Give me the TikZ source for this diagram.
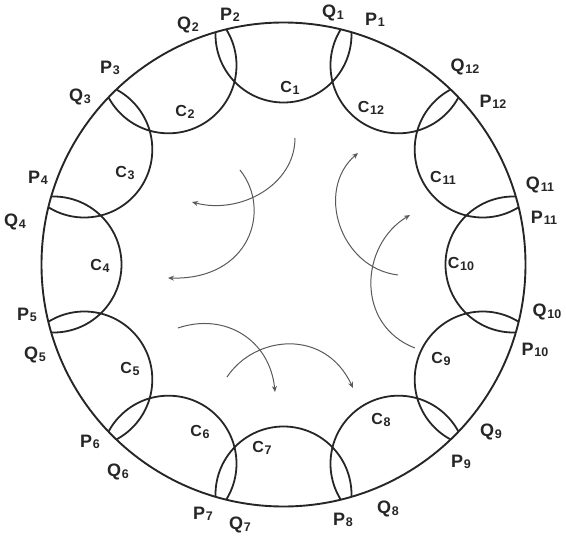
\documentclass[tikz,border=0pt]{standalone}
\usepackage{fontspec}
\setmainfont{Liberation Sans}
\usetikzlibrary{arrows.meta}
\newcommand{\lbl}[2]{#1\kern0.8pt{\fontsize{12.5}{12.5}\selectfont\raisebox{-1.5pt}{#2}}}
\begin{document}
\begin{tikzpicture}[x=1pt,y=-1pt,
  ring/.style={line width=1.9pt, draw=black!85},
  small/.style={circle, draw=black!85, line width=1.8pt, minimum size=136pt, inner sep=0pt},
  plabel/.style={font=\fontsize{18}{18}\selectfont\bfseries, inner sep=0pt, text=black!85},
  clabel/.style={font=\fontsize{16}{16}\selectfont\bfseries, inner sep=0pt, text=black!85},
  flow/.style={draw=black!65, line width=1pt, -{Stealth[length=6pt,width=5pt]}}]
\useasboundingbox (0,0) rectangle (566,544);
\coordinate (O) at (283.5,264.5);
\begin{scope}
  \clip (O) circle (242);
  \foreach \i in {1,...,12} {
    \pgfmathsetmacro\a{90+30*(\i-1)}
    \node[small] (c\i) at ({283.5+230*cos(\a)},{264.5-230*sin(\a)}) {};
  }
\end{scope}
\draw[ring] (O) circle (242);
% P / Q labels
\node[plabel] (q1) at (333,13) {\lbl{Q}{1}};
\node[plabel] (p1) at (375,20) {\lbl{P}{1}};
\node[plabel] (q2) at (188,25) {\lbl{Q}{2}};
\node[plabel] (p2) at (230,15) {\lbl{P}{2}};
\node[plabel] (p3) at (110,68) {\lbl{P}{3}};
\node[plabel] (q3) at (80,97) {\lbl{Q}{3}};
\node[plabel] (p4) at (38,178) {\lbl{P}{4}};
\node[plabel] (q4) at (15,222) {\lbl{Q}{4}};
\node[plabel] (p5) at (27,315) {\lbl{P}{5}};
\node[plabel] (q5) at (35,355) {\lbl{Q}{5}};
\node[plabel] (p6) at (90,442) {\lbl{P}{6}};
\node[plabel] (q6) at (118,472) {\lbl{Q}{6}};
\node[plabel] (p7) at (203,514) {\lbl{P}{7}};
\node[plabel] (q7) at (240,525) {\lbl{Q}{7}};
\node[plabel] (p8) at (343,520) {\lbl{P}{8}};
\node[plabel] (q8) at (388,509) {\lbl{Q}{8}};
\node[plabel] (p9) at (461,462) {\lbl{P}{9}};
\node[plabel] (q9) at (491,432) {\lbl{Q}{9}};
\node[plabel] (p10) at (535,350) {\lbl{P}{10}};
\node[plabel] (q10) at (547,312) {\lbl{Q}{10}};
\node[plabel] (p11) at (544,218) {\lbl{P}{11}};
\node[plabel] (q11) at (540,185) {\lbl{Q}{11}};
\node[plabel] (p12) at (493,102) {\lbl{P}{12}};
\node[plabel] (q12) at (465,67) {\lbl{Q}{12}};
% C labels
\node[clabel] (l1) at (290,88) {\lbl{C}{1}};
\node[clabel] (l2) at (185,112) {\lbl{C}{2}};
\node[clabel] (l3) at (125,173) {\lbl{C}{3}};
\node[clabel] (l4) at (100,266) {\lbl{C}{4}};
\node[clabel] (l5) at (130,369) {\lbl{C}{5}};
\node[clabel] (l6) at (200,432) {\lbl{C}{6}};
\node[clabel] (l7) at (262,448) {\lbl{C}{7}};
\node[clabel] (l8) at (381,420) {\lbl{C}{8}};
\node[clabel] (l9) at (441,359) {\lbl{C}{9}};
\node[clabel] (l10) at (461,264) {\lbl{C}{10}};
\node[clabel] (l11) at (443,178) {\lbl{C}{11}};
\node[clabel] (l12) at (371,108) {\lbl{C}{12}};
% flow arrows
\coordinate (a1s) at (295,138); \coordinate (a1e) at (192,202);
\coordinate (a2s) at (240,170); \coordinate (a2e) at (168,278);
\coordinate (a3s) at (398,275); \coordinate (a3e) at (358,153);
\coordinate (a4s) at (415,348); \coordinate (a4e) at (410,215);
\coordinate (a5s) at (178,328); \coordinate (a5e) at (275,392);
\coordinate (a6s) at (227,377); \coordinate (a6e) at (353,388);
\draw[flow] (a1s) .. controls (295,185) and (240,215) .. (a1e);
\draw[flow] (a2s) .. controls (272,210) and (250,280) .. (a2e);
\draw[flow] (a3s) .. controls (340,268) and (315,190) .. (a3e);
\draw[flow] (a4s) .. controls (355,325) and (360,245) .. (a4e);
\draw[flow] (a5s) .. controls (225,312) and (270,340) .. (a5e);
\draw[flow] (a6s) .. controls (255,335) and (325,328) .. (a6e);
\end{tikzpicture}
\end{document}
